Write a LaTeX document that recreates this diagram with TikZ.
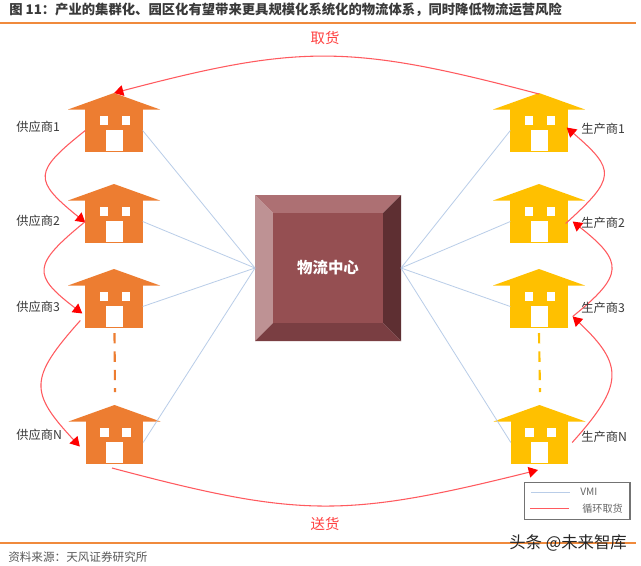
\documentclass[tikz,border=0pt]{standalone}
\usepackage{fontspec}
\setmainfont{Noto Sans CJK SC}
\usetikzlibrary{arrows.meta,calc}
\definecolor{rulecol}{HTML}{F08A3C}
\definecolor{supcol}{HTML}{ED7D31}
\definecolor{makcol}{HTML}{FFC000}
\definecolor{vmicol}{HTML}{B9CDE8}
\definecolor{loopcol}{HTML}{FF5A5F}
\definecolor{ink}{HTML}{3A3A3A}
\tikzset{
  body/.style={minimum width=43pt,minimum height=32pt,inner sep=0pt,outer sep=0pt},
  vmiline/.style={draw=vmicol,line width=0.6pt},
  loopline/.style={draw=loopcol,line width=0.8pt,-{Triangle[length=7pt,width=8pt,color=red]}},
  plainloop/.style={draw=loopcol,line width=0.7pt},
  lab/.style={font=\fontsize{9.2pt}{11pt}\selectfont,text=ink,inner sep=0pt},
  redlab/.style={font=\fontsize{10.8pt}{12pt}\selectfont,text=red!75!white,inner sep=0pt},
  legtext/.style={font=\fontsize{7.6pt}{9pt}\selectfont,text=black!60,inner sep=0pt},
  gapline/.style={line width=1.6pt,dash pattern=on 7.8pt off 6pt}
}
% name, centre x, apex y, colour
\newcommand{\housedraw}[4]{
  \node[body,fill=#4] (#1) at (#2,#3+37.5) {};
  \fill[#4] (#2-46,#3+16.5) -- (#2,#3) -- (#2+46,#3+16.5) -- cycle;
  \fill[white] (#2-14.5,#3+23) rectangle (#2-6,#3+31.5);
  \fill[white] (#2+7.5,#3+23) rectangle (#2+16,#3+31.5);
  \fill[white] (#2-8.5,#3+37) rectangle (#2+8.5,#3+58);
}
\begin{document}
\begin{tikzpicture}[x=0.75pt,y=-0.75pt]
\useasboundingbox (0,0) rectangle (641,565);
\fill[white] (0,0) rectangle (641,565);
% title and rules
\node[anchor=west,inner sep=0pt,text=ink,font=\bfseries\fontsize{10pt}{12pt}\selectfont] (title) at (9,10) {图 11：产业的集群化、园区化有望带来更具规模化系统化的物流体系，同时降低物流运营风险};
\draw[rulecol,line width=1pt] (0,23) -- (636,23);
\draw[rulecol,line width=0.9pt] (0,543) -- (636,543);
\node[anchor=west,inner sep=0pt,text=black!65,font=\fontsize{8.7pt}{10pt}\selectfont] (src) at (8,557) {资料来源：天风证券研究所};
% hub
\node[minimum size=109.5pt,inner sep=0pt,outer sep=0pt] (hub) at (328,268) {};
\fill[fill={rgb,255:red,173;green,112;blue,115}] (255,195) -- (401,195) -- (383,213) -- (273,213) -- cycle;
\fill[fill={rgb,255:red,190;green,146;blue,148}] (255,195) -- (273,213) -- (273,323) -- (255,341) -- cycle;
\fill[fill={rgb,255:red,94;green,47;blue,50}] (401,195) -- (401,341) -- (383,323) -- (383,213) -- cycle;
\fill[fill={rgb,255:red,122;green,62;blue,66}] (255,341) -- (273,323) -- (383,323) -- (401,341) -- cycle;
\fill[fill={rgb,255:red,149;green,79;blue,82}] (273,213) rectangle (383,323);
\node[text=white,inner sep=0pt,font=\bfseries\fontsize{11.6pt}{13pt}\selectfont] (hubtext) at (328,268) {物流中心};
% houses
\housedraw{s1}{114}{93}{supcol}
\housedraw{s2}{114}{184}{supcol}
\housedraw{s3}{114}{269}{supcol}
\housedraw{sN}{114.5}{405}{supcol}
\housedraw{p1}{539}{93}{makcol}
\housedraw{p2}{539}{184}{makcol}
\housedraw{p3}{539}{269}{makcol}
\housedraw{pN}{539.5}{405}{makcol}
\coordinate (hubL) at (hub.west);
\coordinate (hubR) at (hub.east);
\coordinate (s1top) at (114,93);
\coordinate (p1top) at (539,94);
\coordinate (sNbot) at (112,468);
\coordinate (pNbot) at (538,470);
% VMI
\foreach \n in {s1,s2,s3,sN} \draw[vmiline] (\n.east) -- (hubL);
\foreach \n in {p1,p2,p3,pN} \draw[vmiline] (\n.west) -- (hubR);
% loops
\draw[loopline] (p1top) .. controls (350,44) and (300,44) .. (s1top);
\draw[loopline] (sNbot) .. controls (300,518) and (345,518) .. (pNbot);
\draw[loopline] (s1.west) .. controls (33,172) and (33,180) .. ($(s2.west)+(0,1)$);
\draw[loopline] (s2.west) .. controls (32,265) and (32,275) .. ($(s3.west)+(-3,7)$);
\draw[loopline] ($(s3.west)+(-5,14)$) .. controls (29,378) and (29,392) .. ($(sN.west)+(-6,4)$);
\draw[loopline] ($(p2.east)+(-2,2)$) .. controls (616,178) and (616,170) .. ($(p1.east)+(-1,-3)$);
\draw[loopline] ($(p3.east)+(5,10)$) .. controls (624,275) and (624,262) .. ($(p2.east)+(5,0)$);
\draw[loopline] ($(pN.east)+(4,0)$) .. controls (624,385) and (624,365) .. ($(p3.east)+(5,10)$);
% dashes
\draw[supcol,gapline] (114.5,333) -- (115,392);
\draw[makcol,gapline] (539,333) -- (540,392);
% labels
\foreach \n/\t/\yy in {a/供应商1/127,b/供应商2/221,c/供应商3/307,d/供应商N/435}
  \node[lab,anchor=west] (\n) at (16,\yy) {\t};
\foreach \n/\t/\yy in {e/生产商1/129,f/生产商2/223,g/生产商3/308,h/生产商N/437}
  \node[lab,anchor=west] (\n) at (581,\yy) {\t};
\node[redlab] (take) at (325,38) {取货};
\node[redlab] (send) at (325,524) {送货};
% legend
\node[draw=black!55,line width=1pt,minimum width=79pt,minimum height=27.5pt,inner sep=0pt,anchor=north west] (leg) at (524,482) {};
\coordinate (l1a) at (531,492); \coordinate (l1b) at (570,492);
\coordinate (l2a) at (530,508); \coordinate (l2b) at (569,508);
\draw[vmiline] (l1a) -- (l1b);
\draw[plainloop] (l2a) -- (l2b);
\node[legtext,anchor=west] (lv) at (580,492) {VMI};
\node[legtext,anchor=west] (lx) at (582,509) {循环取货};
% watermark
\node[anchor=west,inner sep=0pt,text=black!85,font=\fontsize{12.3pt}{14pt}\selectfont] (wm) at (509,543) {头条 @未来智库};
\end{tikzpicture}
\end{document}
